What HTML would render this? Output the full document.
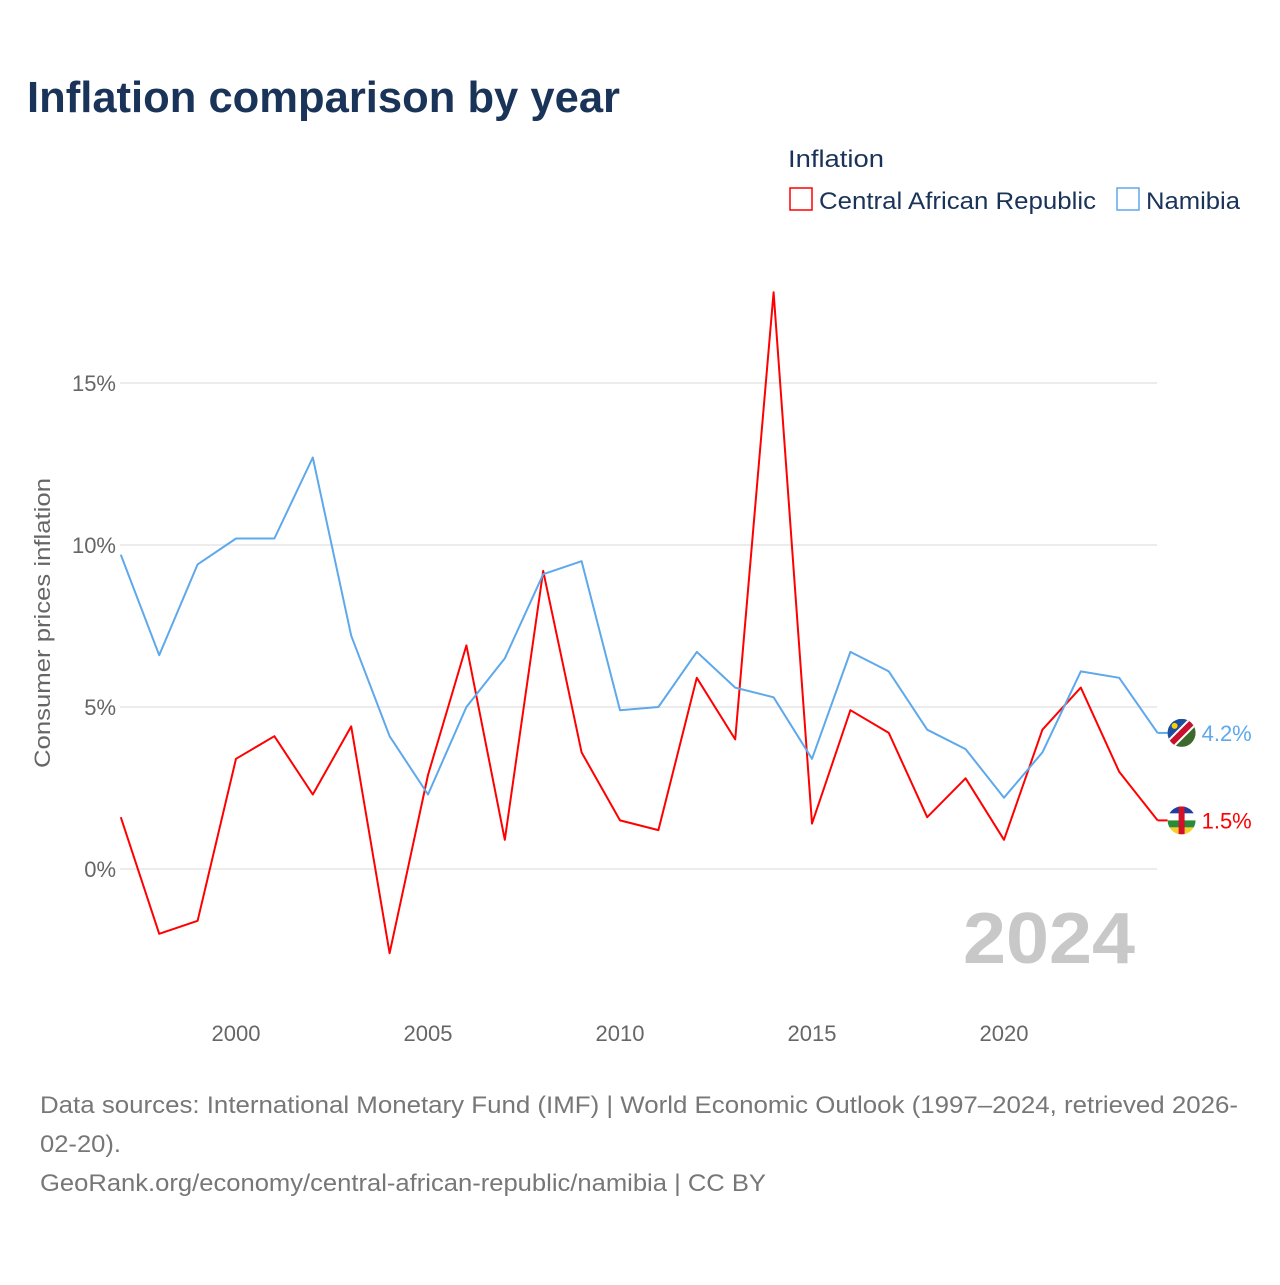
<!DOCTYPE html>
<html><head><meta charset="utf-8">
<style>
body{margin:0;background:#fff;font-family:"Liberation Sans",sans-serif;}
svg text{font-family:"Liberation Sans",sans-serif;}
</style></head>
<body>
<svg id="chart" width="1280" height="1280" xmlns="http://www.w3.org/2000/svg">
<rect width="1280" height="1280" fill="#fff"/>
<text x="27" y="112" font-size="44" font-weight="bold" fill="#1a3358" textLength="593" lengthAdjust="spacingAndGlyphs">Inflation comparison by year</text>
<text x="788" y="167" font-size="24" fill="#1a3358" textLength="96" lengthAdjust="spacingAndGlyphs">Inflation</text>
<g>
<rect x="790" y="188" width="22" height="22" fill="none" stroke="#ff0000" stroke-width="1.5"/>
<text x="819" y="209" font-size="24" fill="#1a3358" textLength="277" lengthAdjust="spacingAndGlyphs">Central African Republic</text></g>
<g>
<rect x="1117" y="188" width="22" height="22" fill="none" stroke="#5ea8ec" stroke-width="1.5"/>
<text x="1146" y="209" font-size="24" fill="#1a3358" textLength="94" lengthAdjust="spacingAndGlyphs">Namibia</text></g>
<text transform="translate(50,623) rotate(-90)" text-anchor="middle" font-size="22" fill="#666" textLength="290" lengthAdjust="spacingAndGlyphs">Consumer prices inflation</text>
<g id="grid"></g><g id="xt"></g><g id="lines"></g>
<text x="1135" y="963" text-anchor="end" font-size="72" font-weight="bold" fill="#c8c8c8" textLength="172" lengthAdjust="spacingAndGlyphs">2024</text>
<text x="40" y="1113" font-size="24" fill="#777" textLength="1198" lengthAdjust="spacingAndGlyphs">Data sources: International Monetary Fund (IMF) | World Economic Outlook (1997–2024, retrieved 2026-</text>
<text x="40" y="1152" font-size="24" fill="#777" textLength="81" lengthAdjust="spacingAndGlyphs">02-20).</text>
<text x="40" y="1191" font-size="24" fill="#777" textLength="726" lengthAdjust="spacingAndGlyphs">GeoRank.org/economy/central-african-republic/namibia | CC BY</text>
</svg>
<script>
const years=[];for(let y=1997;y<=2024;y++)years.push(y);
const carValues=[1.6,-2.0,-1.6,3.4,4.1,2.3,4.4,-2.6,2.9,6.9,0.9,9.2,3.6,1.5,1.2,5.9,4.0,17.8,1.4,4.9,4.2,1.6,2.8,0.9,4.3,5.6,3.0,1.5];
const namValues=[9.7,6.6,9.4,10.2,10.2,12.7,7.2,4.1,2.3,5.0,6.5,9.1,9.5,4.9,5.0,6.7,5.6,5.3,3.4,6.7,6.1,4.3,3.7,2.2,3.6,6.1,5.9,4.2];
const yTicks=[0,5,10,15];
const xTicks=[2000,2005,2010,2015,2020];
const NS="http://www.w3.org/2000/svg";
const xs=y=>120.8+(y-1997)*38.4;
const ys=v=>869-v*32.4;
function el(t,a,p){const e=document.createElementNS(NS,t);for(const k in a)e.setAttribute(k,a[k]);p.appendChild(e);return e;}
const grid=document.getElementById('grid');
yTicks.forEach(v=>{
 const l=el('line',{x1:120,x2:1157,y1:ys(v),y2:ys(v),stroke:'#e6e6e6','stroke-width':1.5},grid);
 
 
 const t=el('text',{x:116,y:ys(v)+8,'text-anchor':'end','font-size':22,fill:'#666'},grid);t.textContent=v+'%';
 
 
});
const xt=document.getElementById('xt');
xTicks.forEach(y=>{
 const t=el('text',{x:xs(y),y:1041,'text-anchor':'middle','font-size':22,fill:'#666'},xt);t.textContent=y;
 
 
});
const lines=document.getElementById('lines');
function series(vals,color,name){
 const d=vals.map((v,i)=>(i?'L':'M')+xs(years[i]).toFixed(1)+','+ys(v).toFixed(1)).join('');
 const p=el('path',{d:d,fill:'none',stroke:color,'stroke-width':2,'stroke-linejoin':'round'},lines);
 
 
 const last=vals[vals.length-1],lx=xs(years[years.length-1]),ly=ys(last);
 el('line',{x1:lx,x2:lx+10,y1:ly,y2:ly,stroke:color,'stroke-width':2},lines);
 const g=el('g',{},lines);
 
 
 return {lx,ly,g,last};
}
const c=series(carValues,'#ff0000','car');
const n=series(namValues,'#5ea8ec','namibia');
const cx=c.lx+24,cy=c.ly;
el('clipPath',{id:'cc'},c.g);el('circle',{cx:cx,cy:cy,r:14},c.g.lastChild);
const cg=el('g',{'clip-path':'url(#cc)'},c.g);
['#1f3fa0','#fff','#2a8a3a','#f6d02a'].forEach((col,i)=>el('rect',{x:cx-14,y:cy-14+i*7,width:28,height:7,fill:col},cg));
el('rect',{x:cx-3,y:cy-14,width:6,height:28,fill:'#d2102a'},cg);
const nx=n.lx+24,ny=n.ly;
el('clipPath',{id:'nc'},n.g);el('circle',{cx:nx,cy:ny,r:14},n.g.lastChild);
const ng=el('g',{'clip-path':'url(#nc)'},n.g);
el('rect',{x:nx-14,y:ny-14,width:28,height:28,fill:'#3b6a2c'},ng);
el('polygon',{points:`${nx-14},${ny-14} ${nx+14},${ny-14} ${nx-14},${ny+14}`,fill:'#1e50a0'},ng);
el('line',{x1:nx-16,y1:ny+16,x2:nx+16,y2:ny-16,stroke:'#fff','stroke-width':10},ng);
el('line',{x1:nx-16,y1:ny+16,x2:nx+16,y2:ny-16,stroke:'#c8102e','stroke-width':6},ng);
el('circle',{cx:nx-7,cy:ny-7,r:3,fill:'#ffce00'},ng);
const t1=el('text',{x:c.lx+44,y:c.ly+8,'font-size':22,fill:'#ff0000'},lines);t1.textContent=c.last.toFixed(1)+'%';


const t2=el('text',{x:n.lx+44,y:n.ly+8,'font-size':22,fill:'#5ea8ec'},lines);t2.textContent=n.last.toFixed(1)+'%';


</script>
</body></html>
